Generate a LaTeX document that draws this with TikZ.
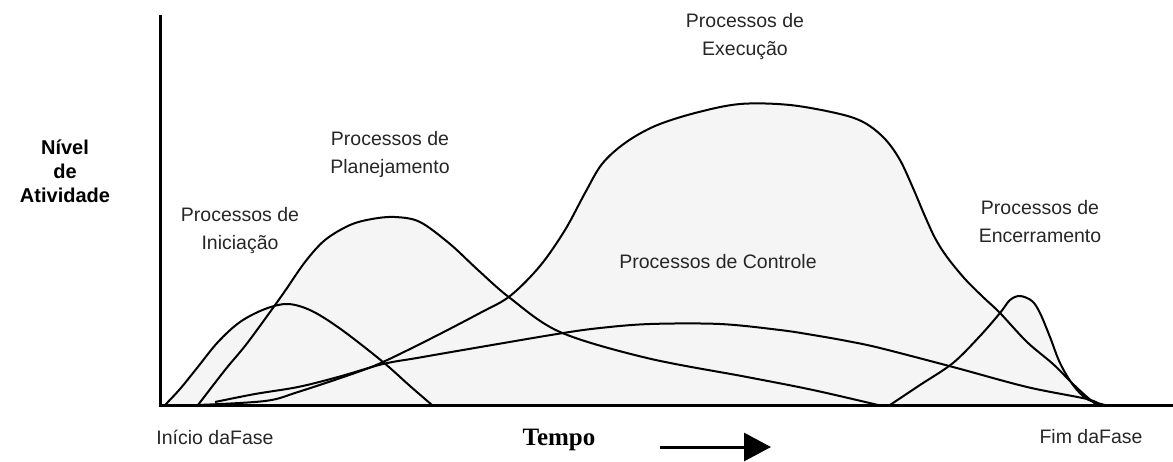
\documentclass[tikz,border=0pt]{standalone}
\usepackage{fontspec}
\setmainfont{Liberation Sans}
\newfontfamily\serifa{Liberation Serif}
\usetikzlibrary{arrows.meta}

\begin{document}
\begin{tikzpicture}[x=1pt,y=-1pt,
  rotulo/.style={align=center,font=\fontsize{19.5}{28}\selectfont,text=black!85,inner sep=0pt},
  eixo/.style={line width=3pt},
  curva/.style={line width=2pt,line join=round},
  fundo/.style={fill=black!4}]
 \useasboundingbox (0,0) rectangle (1173,461);
 % curvas de cada grupo de processos
 \def\iniciacao{plot[smooth,tension=.55] coordinates {(165,405) (180,389) (197,368) (218,342) (240,322) (265,309) (288,304) (312,311) (342,330) (383,362) (410,386) (432,405)}}
 \def\planejamento{plot[smooth,tension=.55] coordinates {(198,405) (225,370) (245,346) (265,319) (285,291) (305,262) (325,240) (350,225) (372,219) (395,217) (420,222) (450,244) (478,270) (510,298) (560,332) (647,358) (747,377) (813,390) (878,405)}}
 \def\execucao{plot[smooth,tension=.55] coordinates {(198,405) (265,401) (298,392) (355,373) (383,362) (430,339) (480,313) (510,296) (540,266) (565,230) (585,193) (602,164) (625,143) (655,126) (695,113) (740,104) (790,105) (840,114) (865,123) (885,139) (900,160) (913,188) (924,214) (935,238) (947,257) (965,279) (983,297) (1000,313) (1027,342) (1053,364) (1073,384) (1087,397) (1097,405)}}
 \def\controle{plot[smooth,tension=.55] coordinates {(215,402) (255,394) (298,387) (338,377) (383,364) (417,358) (463,350) (557,334) (600,328) (650,324) (720,324) (780,330) (813,335) (847,341) (880,348) (953,367) (1027,387) (1087,399) (1100,405)}}
 \def\encerramento{plot[smooth,tension=.55] coordinates {(890,405) (920,385) (953,363) (980,336) (1000,313) (1010,300) (1020,296) (1032,301) (1040,313) (1050,337) (1060,363) (1073,385) (1087,399) (1105,405)}}
 \fill[fundo] \iniciacao -- cycle;
 \fill[fundo] \planejamento -- cycle;
 \fill[fundo] \execucao -- cycle;
 \fill[fundo] \controle -- cycle;
 \fill[fundo] \encerramento -- cycle;
 \draw[curva] \iniciacao;
 \draw[curva] \planejamento;
 \draw[curva] \execucao;
 \draw[curva] \controle;
 \draw[curva] \encerramento;
 % eixos
 \draw[eixo] (160,15) -- (160,405) -- (1173,405);
 % textos
 \node[rotulo,font=\bfseries\fontsize{20}{24}\selectfont,text=black] (nivel) at (65,171) {Nível\\de\\Atividade};
 \node[rotulo] (ini) at (240,230) {Processos de\\Iniciação};
 \node[rotulo] (plan) at (390,154) {Processos de\\Planejamento};
 \node[rotulo] (exec) at (745,36) {Processos de\\Execução};
 \node[rotulo] (ctrl) at (718,262) {Processos de Controle};
 \node[rotulo] (enc) at (1040,222) {Processos de\\Encerramento};
 \node[rotulo] (inicio) at (215,437) {Início daFase};
 \node[rotulo] (fim) at (1091,437) {Fim daFase};
 \node[font=\serifa\bfseries\fontsize{25}{30}\selectfont,inner sep=0pt] (tempo) at (559,440) {Tempo};
 \coordinate (setaA) at (660,447);
 \coordinate (setaB) at (771,447);
 \draw[line width=3pt,-{Triangle[length=27pt,width=28pt]}] (setaA) -- (setaB);
\end{tikzpicture}
\end{document}
